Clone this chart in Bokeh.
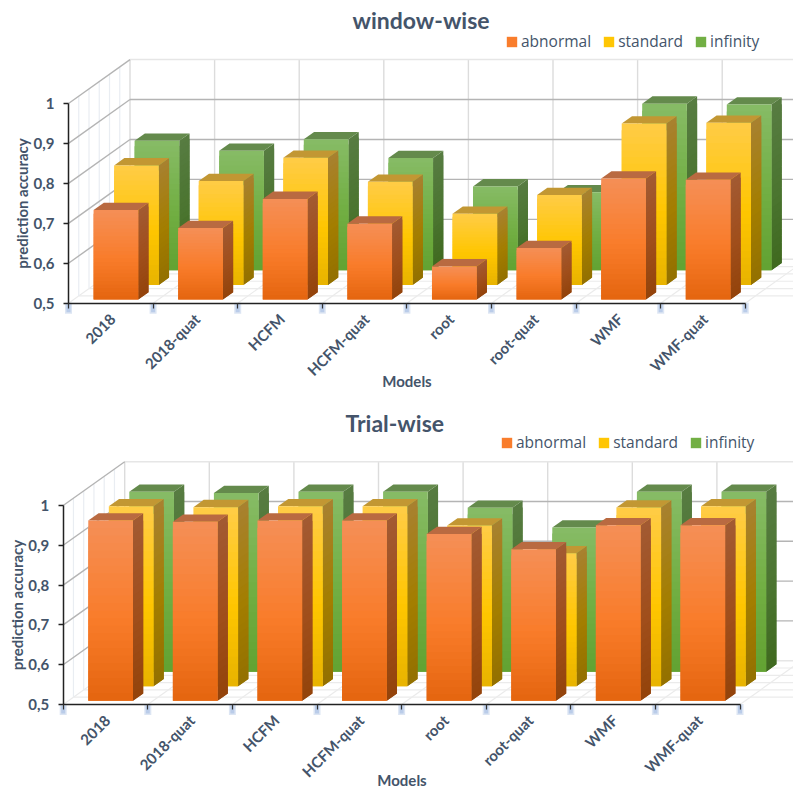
import math

from bokeh.embed import file_html
from bokeh.layouts import column
from bokeh.models import (ColumnDataSource, FixedTicker, Label, Legend, LegendItem,
                          LinearAxis, Range1d)
from bokeh.plotting import figure
from bokeh.resources import INLINE

MODELS = ["2018", "2018-quat", "HCFM", "HCFM-quat", "root", "root-quat", "WMF", "WMF-quat"]
SERIES = ["abnormal", "standard", "infinity"]
TICKS = [0.5, 0.6, 0.7, 0.8, 0.9, 1.0]
TICK_LABELS = ["0,5", "0,6", "0,7", "0,8", "0,9", "1"]

WINDOW_ABNORMAL = [0.724, 0.679, 0.752, 0.690, 0.583, 0.629, 0.803, 0.800]
WINDOW_STANDARD = [0.799, 0.760, 0.818, 0.758, 0.678, 0.725, 0.904, 0.906]
WINDOW_INFINITY = [0.824, 0.799, 0.828, 0.781, 0.710, 0.695, 0.917, 0.915]

TRIAL_ABNORMAL = [0.953, 0.950, 0.953, 0.953, 0.919, 0.881, 0.941, 0.941]
TRIAL_STANDARD = [0.952, 0.950, 0.952, 0.952, 0.904, 0.834, 0.949, 0.952]
TRIAL_INFINITY = [0.952, 0.949, 0.952, 0.952, 0.912, 0.862, 0.952, 0.952]

INK = "#44546A"
FONT = "Lato"
LEGEND_FONT = "Open Sans"

# Oblique projection: one unit of depth moves a point right (categories) and up (accuracy).
DEPTH_DX = 0.727
DEPTH_DY = 0.110
ROW_START = [0.083, 0.417, 0.75]
ROW_DEPTH = 0.167
BAR_GAP = 0.236
BAR_WIDTH = 0.528
BANDS = 24

# Gradient stops top -> bottom for the front and side faces, plus the flat cap colour.
STYLES = {
    "abnormal": dict(front=["#F58F57", "#F97C2A", "#E4650F"], side=["#A25A33", "#A04E1B", "#93430B"], top="#B96A41"),
    "standard": dict(front=["#FFCC47", "#FFC600", "#E8B300"], side=["#A88130", "#A37E00", "#937000"], top="#C29733"),
    "infinity": dict(front=["#87BC66", "#71AE42", "#62A232"], side=["#577C42", "#4B7530", "#3F691F"], top="#648A4C"),
}


def mix(stops, t):
    """Colour at fraction t (0 top, 1 bottom) of a three-stop gradient."""
    seg = 0 if t < 0.55 else 1
    local = t / 0.55 if seg == 0 else (t - 0.55) / 0.45
    a, b = stops[seg], stops[seg + 1]
    chans = [round(int(a[i:i + 2], 16) * (1 - local) + int(b[i:i + 2], 16) * local) for i in (1, 3, 5)]
    return "#%02X%02X%02X" % tuple(chans)


def add_wireframe(p):
    """Back wall, left wall and floor lines of the 3-D box."""
    n = len(MODELS)
    clear_right = n + 1.2
    # floor
    floor_x, floor_y = [], []
    for k in range(n + 1):
        floor_x.append([k, k + DEPTH_DX])
        floor_y.append([0.5, 0.5 + DEPTH_DY])
    for s in range(1, 6):
        d = s / 6
        floor_x.append([d * DEPTH_DX, clear_right])
        floor_y.append([0.5 + d * DEPTH_DY, 0.5 + d * DEPTH_DY])
    p.multi_line(floor_x, floor_y, line_color="#EBEBEB", line_width=1.2)
    # left wall uprights
    up_x = [[s / 6 * DEPTH_DX] * 2 for s in range(1, 6)]
    up_y = [[0.5 + s / 6 * DEPTH_DY, 1.0 + s / 6 * DEPTH_DY] for s in range(1, 6)]
    p.multi_line(up_x, up_y, line_color="#E9EDF2", line_width=1.2)
    # back wall uprights
    back_x = [[k + DEPTH_DX] * 2 for k in range(n + 1)]
    back_y = [[0.5 + DEPTH_DY, 1.0 + DEPTH_DY] for _ in range(n + 1)]
    p.multi_line(back_x, back_y, line_color="#DCDCDC", line_width=1.4)
    # edge of the wall top and of the floor
    p.multi_line([[DEPTH_DX, clear_right], [DEPTH_DX, clear_right]],
                 [[1.0 + DEPTH_DY] * 2, [0.5 + DEPTH_DY] * 2],
                 line_color="#E6E6E6", line_width=1.4)
    # accuracy gridlines: along the left wall, then along the back wall
    grid_x, grid_y = [], []
    for v in TICKS:
        if v > 0.5:
            grid_x.append([0, DEPTH_DX])
            grid_y.append([v, v + DEPTH_DY])
        if 0.5 < v < 1.0:
            grid_x.append([DEPTH_DX, clear_right])
            grid_y.append([v + DEPTH_DY, v + DEPTH_DY])
    p.multi_line(grid_x, grid_y, line_color="#B4B4B4", line_width=1.4)


def add_bars(p, values, row, name):
    """One depth row of bars: banded front and side faces with a flat cap.

    Each band reaches down over the next one, which is painted after it, so no
    seam shows between bands.
    """
    style = STYLES[name]
    d0, d1 = ROW_START[row], ROW_START[row] + ROW_DEPTH
    fr = dict(left=[], right=[], bottom=[], top=[], color=[])
    sd = dict(xs=[], ys=[], color=[])
    cap = dict(xs=[], ys=[])
    for k, val in enumerate(values):
        x0 = k + BAR_GAP + d0 * DEPTH_DX
        x1 = x0 + BAR_WIDTH
        dx = (d1 - d0) * DEPTH_DX
        dy = (d1 - d0) * DEPTH_DY
        base = 0.5 + d0 * DEPTH_DY
        step = (val - 0.5) / BANDS
        for b in range(BANDS):
            t = (b + 0.5) / BANDS
            hi = base + (val - 0.5) - b * step
            lo = max(hi - 2 * step, base)
            fr["left"].append(x0)
            fr["right"].append(x1)
            fr["top"].append(hi)
            fr["bottom"].append(lo)
            fr["color"].append(mix(style["front"], t))
            sd["xs"].append([x1, x1 + dx, x1 + dx, x1])
            sd["ys"].append([lo, lo + dy, hi + dy, hi])
            sd["color"].append(mix(style["side"], t))
        cap["xs"].append([x0, x1, x1 + dx, x0 + dx])
        top = base + val - 0.5
        cap["ys"].append([top, top, top + dy, top + dy])
    p.patches("xs", "ys", source=ColumnDataSource(sd), fill_color="color", line_color=None)
    p.patches("xs", "ys", source=ColumnDataSource(cap), fill_color=style["top"], line_color=None)
    return p.quad(left="left", right="right", bottom="bottom", top="top", source=ColumnDataSource(fr),
                  fill_color="color", line_color=None)


def panel(title, series, height, axis_px, base_px, scale, title_x, title_y, legend_x, legend_y, models_standoff):
    n = len(MODELS)
    cat_px = 84.6
    p = figure(width=793, height=height, output_backend="svg", toolbar_location=None,
               x_axis_type=None, y_axis_type=None,
               x_range=Range1d(-axis_px / cat_px, (793 - axis_px) / cat_px),
               y_range=Range1d(0.5 - (height - base_px) / scale, 0.5 + base_px / scale),
               min_border=0, outline_line_color=None, background_fill_color="white")
    # the heading shares the frame with the chart, so it is placed in screen units
    p.add_layout(Label(x=title_x, y=height - title_y, x_units="screen", y_units="screen", text=title,
                       text_font=FONT, text_font_size="23px", text_font_style="bold", text_color=INK,
                       text_baseline="middle"))

    add_wireframe(p)

    # pale halo behind the category tick marks
    halo_x = list(range(n + 1))
    halo_y = [0.5 - 5 / scale] * (n + 1)
    p.rect(halo_x, halo_y, width=7, height=11, width_units="screen", height_units="screen",
           fill_color="#BFD0EA", fill_alpha=0.55, line_color=None)
    p.rect(halo_x, halo_y, width=4, height=8, width_units="screen", height_units="screen",
           fill_color="#9FB8E0", fill_alpha=0.55, line_color=None)

    faces = {}
    for row in (2, 1, 0):
        faces[row] = add_bars(p, series[row], row, SERIES[row])

    yaxis = LinearAxis(fixed_location=0, bounds=(0.5, 1.0), ticker=FixedTicker(ticks=TICKS),
                       major_label_overrides=dict(zip(TICKS, TICK_LABELS)),
                       axis_label="prediction accuracy", axis_label_standoff=0,
                       axis_label_text_font=FONT, axis_label_text_font_size="15px",
                       axis_label_text_font_style="bold", axis_label_text_color=INK,
                       major_label_text_font=FONT, major_label_text_font_size="15px",
                       major_label_text_font_style="bold", major_label_text_color=INK,
                       major_tick_in=0, major_tick_out=5, minor_tick_line_color=None,
                       major_tick_line_color="#222222", major_tick_line_width=1.5,
                       axis_line_color="#222222", axis_line_width=1.5, major_label_standoff=9)
    p.add_layout(yaxis, "left")

    # category names sit a touch right of the mid-point between the tick marks
    label_pos = [k + 0.52 for k in range(n)]
    xaxis = LinearAxis(fixed_location=0.5, bounds=(0, n),
                       ticker=FixedTicker(ticks=label_pos, minor_ticks=list(range(n + 1))),
                       major_label_overrides=dict(zip(label_pos, MODELS)),
                       major_label_orientation=math.pi / 4,
                       axis_label="Models", axis_label_standoff=models_standoff,
                       axis_label_text_font=FONT, axis_label_text_font_size="15px",
                       axis_label_text_font_style="bold", axis_label_text_color=INK,
                       major_label_text_font=FONT, major_label_text_font_size="15px",
                       major_label_text_font_style="bold", major_label_text_color=INK,
                       major_tick_line_color=None, major_tick_in=0, major_tick_out=0,
                       minor_tick_in=0, minor_tick_out=5, minor_tick_line_color="#333333",
                       minor_tick_line_width=1.2,
                       axis_line_color="#222222", axis_line_width=1.5, major_label_standoff=8)
    p.add_layout(xaxis, "below")

    legend = Legend(items=[LegendItem(label=SERIES[r], renderers=[faces[r]], index=BANDS // 2) for r in range(3)],
                    orientation="horizontal", location=(legend_x, legend_y),
                    glyph_width=13, glyph_height=13, label_standoff=3, spacing=11, padding=0, margin=0,
                    border_line_color=None, background_fill_alpha=0,
                    label_text_font=LEGEND_FONT, label_text_font_size="15.5px", label_text_color=INK)
    p.add_layout(legend, "center")
    return p


top = panel("window-wise", [WINDOW_ABNORMAL, WINDOW_STANDARD, WINDOW_INFINITY],
            400, 68.0, 302.7, 399.4, 352, 19, 505, 348, -17)
bottom = panel("Trial-wise", [TRIAL_ABNORMAL, TRIAL_STANDARD, TRIAL_INFINITY],
               389, 62.7, 304.0, 398.0, 345, 22, 500, 336, -19)

page = column(top, bottom, spacing=0)
open("out.html", "w").write(file_html(page, INLINE))
